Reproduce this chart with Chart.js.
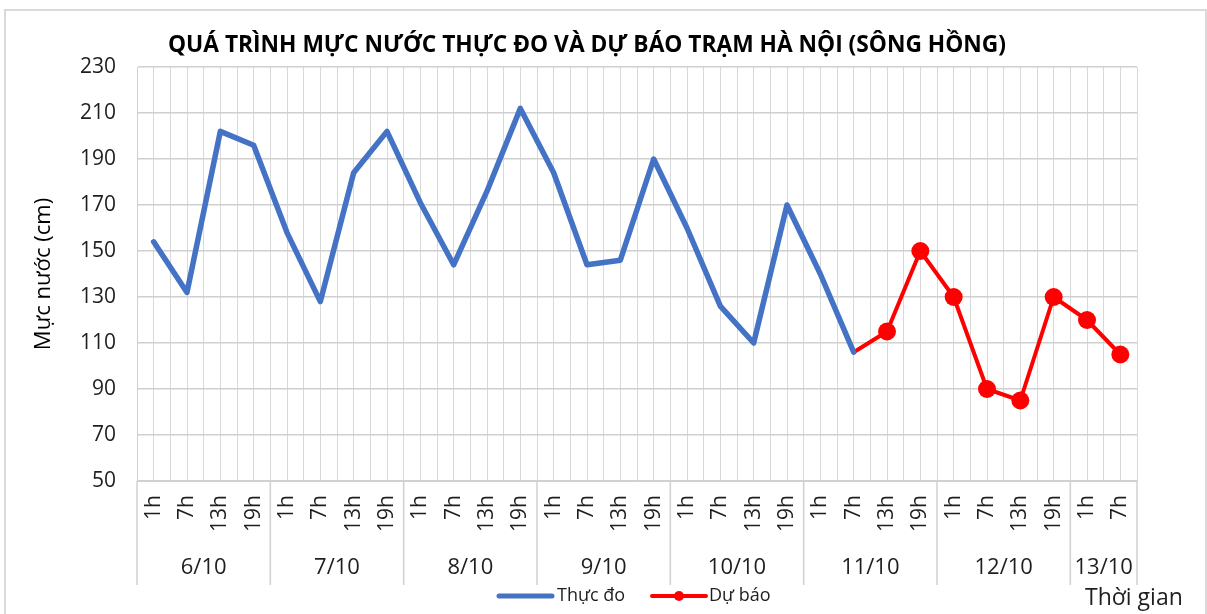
<!DOCTYPE html>
<html lang="vi">
<head>
<meta charset="UTF-8">
<title>Mực nước trạm Hà Nội</title>
<script src="https://cdn.jsdelivr.net/npm/chart.js"></script>
<style>
  body { margin: 0; background: #fff; }
  #wrap { width: 1207px; height: 614px; position: relative; }
</style>
</head>
<body>
<div id="wrap"><canvas id="levelChart"></canvas></div>
<script>
    // data
    const hourLabels = ['1h','7h','13h','19h', '1h','7h','13h','19h', '1h','7h','13h','19h',
                        '1h','7h','13h','19h', '1h','7h','13h','19h', '1h','7h','13h','19h',
                        '1h','7h','13h','19h', '1h','7h'];
    const dateLabels = ['6/10','7/10','8/10','9/10','10/10','11/10','12/10','13/10'];
    const dateSpans  = [4, 4, 4, 4, 4, 4, 4, 2];
    const observed = [154,132,202,196, 158,128,184,202, 171,144,176,212, 184,144,146,190,
                      160,126,110,170, 140,106, null,null, null,null,null,null, null,null];
    const forecast = [null,null,null,null, null,null,null,null, null,null,null,null, null,null,null,null,
                      null,null,null,null, null,106,115,150, 130,90,85,130, 120,105];
    const yTicks = [50, 70, 90, 110, 130, 150, 170, 190, 210, 230];

    const FONT = '"Open Sans", "Noto Sans", sans-serif';
    const TEXT = '#1e1e1e';

    function toPoints(arr) {
        return arr.map((v, i) => ({x: i, y: v})).filter(p => p.y !== null);
    }

    // title, frame, date row, legend, axis caption
    let decorPlugin = {
        id: 'decor',
        afterDraw: function(chart) {
            let ctx = chart.ctx;
            let xs = chart.scales.x;
            let area = chart.chartArea;
            ctx.save();

            // outer frame
            ctx.strokeStyle = '#d9d9d9';
            ctx.lineWidth = 2;
            ctx.strokeRect(5, 10, 1201, 620);

            // title, squeezed to the width it has in the picture
            let title = 'QUÁ TRÌNH MỰC NƯỚC THỰC ĐO VÀ DỰ BÁO TRẠM HÀ NỘI (SÔNG HỒNG)';
            ctx.font = 'bold 23px ' + FONT;
            let w = ctx.measureText(title).width;
            ctx.fillStyle = '#000';
            ctx.textAlign = 'center';
            ctx.textBaseline = 'middle';
            ctx.save();
            ctx.translate(587, 45);
            ctx.scale(838 / w, 1);
            ctx.fillText(title, 0, 0);
            ctx.restore();

            // date row and separators
            ctx.strokeStyle = '#d0d0d0';
            ctx.lineWidth = 1.5;
            ctx.font = '22px ' + FONT;
            ctx.fillStyle = TEXT;
            let start = 0;
            for (let i = 0; i < dateLabels.length; i++) {
                let x0 = xs.getPixelForValue(start - 0.5);
                let x1 = xs.getPixelForValue(start + dateSpans[i] - 0.5);
                ctx.beginPath();
                ctx.moveTo(x0, area.bottom);
                ctx.lineTo(x0, 585);
                ctx.stroke();
                ctx.fillText(dateLabels[i], (x0 + x1) / 2, 568);
                start += dateSpans[i];
            }
            let xEnd = xs.getPixelForValue(start - 0.5);
            ctx.beginPath();
            ctx.moveTo(xEnd, area.bottom);
            ctx.lineTo(xEnd, 585);
            ctx.stroke();

            // legend
            let ds = chart.data.datasets;
            let ly = 596;
            ctx.lineCap = 'round';
            ctx.strokeStyle = ds[0].borderColor;
            ctx.lineWidth = 5;
            ctx.beginPath();
            ctx.moveTo(499, ly);
            ctx.lineTo(552, ly);
            ctx.stroke();
            ctx.font = '18px ' + FONT;
            ctx.fillStyle = TEXT;
            ctx.textAlign = 'left';
            ctx.fillText(ds[0].label, 557, ly);

            ctx.strokeStyle = ds[1].borderColor;
            ctx.fillStyle = ds[1].borderColor;
            ctx.lineWidth = 4;
            ctx.beginPath();
            ctx.moveTo(652, ly);
            ctx.lineTo(706, ly);
            ctx.stroke();
            ctx.beginPath();
            ctx.arc(679, ly, 5, 0, Math.PI * 2);
            ctx.fill();
            ctx.fillStyle = TEXT;
            ctx.fillText(ds[1].label, 709, ly);

            // x axis caption
            ctx.font = '23px ' + FONT;
            ctx.fillText('Thời gian', 1085, 598);

            ctx.restore();
        }
    };

    let ctx = document.getElementById('levelChart').getContext('2d');
    let chart = new Chart(ctx, {
        type: 'line',
        data: {
            datasets: [
                {
                    label: 'Thực đo',
                    data: toPoints(observed),
                    borderColor: '#4472C4',
                    backgroundColor: '#4472C4',
                    borderWidth: 5.5,
                    borderJoinStyle: 'round',
                    borderCapStyle: 'round',
                    pointRadius: 0,
                    pointHoverRadius: 0
                },
                {
                    label: 'Dự báo',
                    data: toPoints(forecast),
                    borderColor: '#FF0000',
                    backgroundColor: '#FF0000',
                    borderWidth: 4,
                    borderJoinStyle: 'round',
                    borderCapStyle: 'round',
                    // the first forecast point joins the observed line, no marker there
                    pointRadius: c => c.dataIndex === 0 ? 0 : 9,
                    pointHoverRadius: c => c.dataIndex === 0 ? 0 : 9,
                    pointBorderWidth: 0
                }
            ]
        },
        options: {
            responsive: true,
            maintainAspectRatio: false,
            animation: false,
            layout: { padding: { left: 5, top: 67, right: 70, bottom: 0 } },
            plugins: {
                legend: { display: false },
                tooltip: { enabled: false }
            },
            scales: {
                x: {
                    type: 'linear',
                    min: -0.5,
                    max: hourLabels.length - 0.5,
                    afterFit: s => { s.height = 133; },
                    afterBuildTicks: s => {
                        let t = [];
                        for (let v = -0.5; v <= hourLabels.length - 0.5; v += 0.5) t.push({value: v});
                        s.ticks = t;
                    },
                    grid: { color: '#d9d9d9', lineWidth: 1, drawTicks: false },
                    border: { color: '#d0d0d0' },
                    ticks: {
                        autoSkip: false,
                        minRotation: 90,
                        maxRotation: 90,
                        padding: 14,
                        color: TEXT,
                        font: { family: FONT, size: 21 },
                        callback: v => Number.isInteger(v) ? hourLabels[v] : ''
                    }
                },
                y: {
                    min: yTicks[0],
                    max: yTicks[yTicks.length - 1],
                    afterFit: s => { s.width = 132; },
                    afterBuildTicks: s => { s.ticks = yTicks.map(v => ({value: v})); },
                    grid: { color: '#d0d0d0', lineWidth: 1.5, drawTicks: false },
                    border: { color: '#d0d0d0' },
                    ticks: {
                        padding: 21,
                        color: TEXT,
                        font: { family: FONT, size: 21 }
                    },
                    title: {
                        display: true,
                        text: 'Mực nước (cm)',
                        color: '#000',
                        font: { family: FONT, size: 22 },
                        padding: { top: 26, bottom: 0 }
                    }
                }
            }
        },
        plugins: [decorPlugin]
    });
</script>
</body>
</html>
